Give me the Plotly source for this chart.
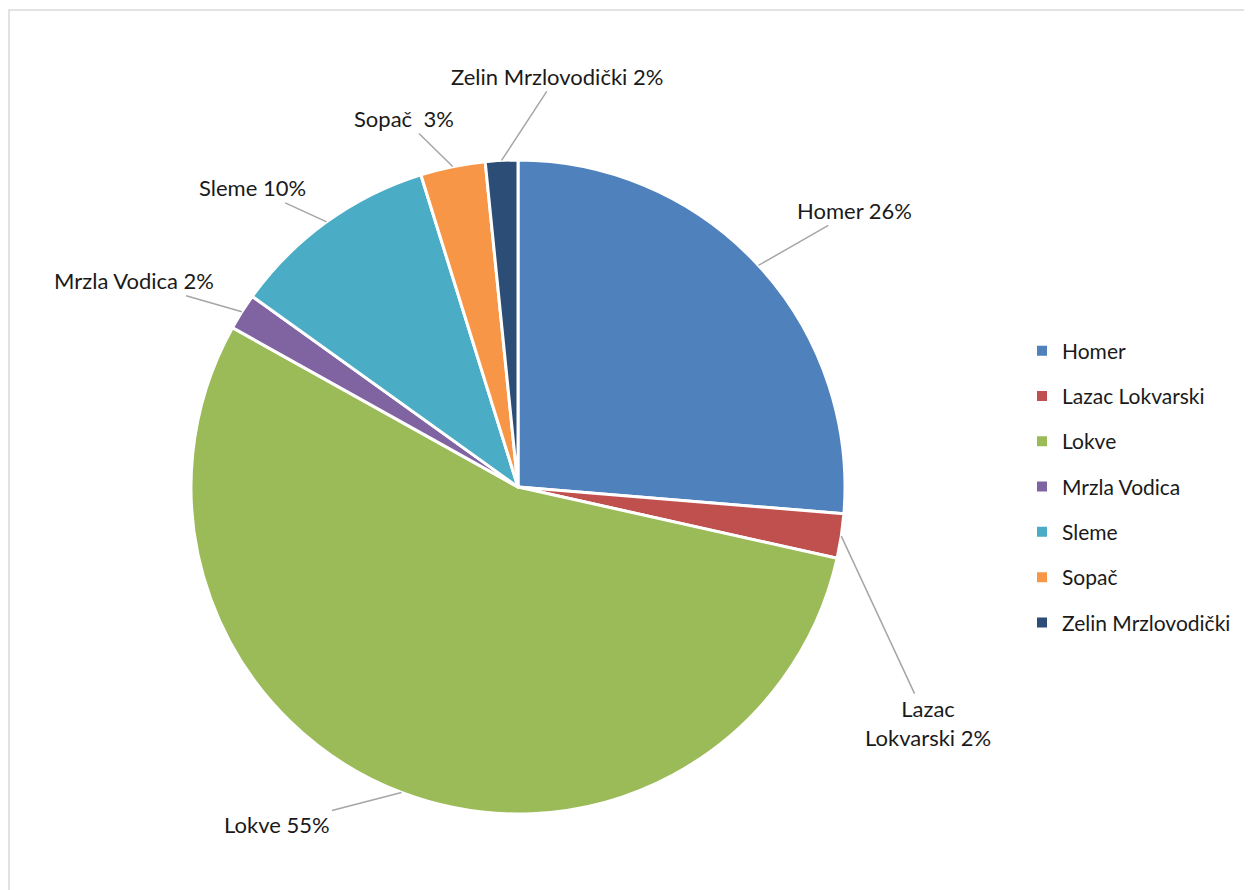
import math
import plotly.graph_objects as go

# ---- data ----
names = ["Homer", "Lazac Lokvarski", "Lokve", "Mrzla Vodica", "Sleme", "Sopač", "Zelin Mrzlovodički"]
values = [26.3, 2.2, 54.6, 1.8, 10.3, 3.2, 1.6]
label_names = ["Homer", "Lazac<br>Lokvarski", "Lokve", "Mrzla Vodica", "Sleme", "Sopač ", "Zelin Mrzlovodički"]
colors = ["#4F81BD", "#C0504D", "#9BBB59", "#8064A2", "#4BACC6", "#F79646", "#2C4D75"]

# ---- layout settings (page has an 8px body margin) ----
W, H = 1252, 890
OFF = 8
cx_px, cy_px, R = 518 - OFF, 487 - OFF, 327
# pixel offsets of label centres from the slice edge point
label_offsets = [(96, -55), (87, 187), (-124, 32), (-108, -31), (-74, -34), (-49, -48), (55, -84)]
FONT = "Lato, Open Sans, sans-serif"
FS = 22

fig = go.Figure()
fig.add_trace(go.Pie(
    labels=names,
    values=values,
    sort=False,
    direction="clockwise",
    rotation=0,
    marker=dict(colors=colors, line=dict(color="white", width=3)),
    textinfo="none",
    hoverinfo="label+percent",
    showlegend=False,
    domain=dict(x=[(cx_px - R) / W, (cx_px + R) / W], y=[1 - (cy_px + R) / H, 1 - (cy_px - R) / H]),
))

# legend entries (one per slice, same colours)
for n, c in zip(names, colors):
    fig.add_trace(go.Scatter(
        x=[None], y=[None], mode="markers", name=n, legendgroup=n,
        marker=dict(symbol="square", size=10, color=c),
        showlegend=True,
    ))

total = sum(values)
annotations = []
cum = 0.0
for name, v, (dx, dy) in zip(label_names, values, label_offsets):
    mid = (cum + v / 2) / total * 2 * math.pi
    cum += v
    ex = cx_px + R * math.sin(mid)
    ey = cy_px - R * math.cos(mid)
    pct = round(v / total * 100)
    annotations.append(dict(
        x=ex / W, y=1 - ey / H, xref="paper", yref="paper",
        text=f"{name} {pct}%",
        showarrow=True, arrowhead=0, arrowwidth=1.5, arrowcolor="#A6A6A6",
        ax=dx, ay=dy, standoff=0,
        font=dict(family=FONT, size=FS, color="#1a1a1a"),
        align="center",
    ))

fig.update_layout(
    width=W, height=H,
    margin=dict(l=0, r=0, t=0, b=0),
    paper_bgcolor="white",
    plot_bgcolor="white",
    xaxis=dict(visible=False),
    yaxis=dict(visible=False),
    annotations=annotations,
    showlegend=True,
    legend=dict(
        x=(1022 - OFF) / W, y=1 - (487 - OFF) / H, xanchor="left", yanchor="middle",
        font=dict(family=FONT, size=21, color="#1a1a1a"),
        tracegroupgap=15,
        itemwidth=30,
    ),
    shapes=[dict(type="rect", xref="paper", yref="paper",
                 x0=(9 - OFF) / W, y0=-0.02, x1=1.02, y1=1 - (10 - OFF) / H,
                 line=dict(color="#D9D9D9", width=1.5), fillcolor="rgba(0,0,0,0)")],
)

fig.write_html("out.html")
